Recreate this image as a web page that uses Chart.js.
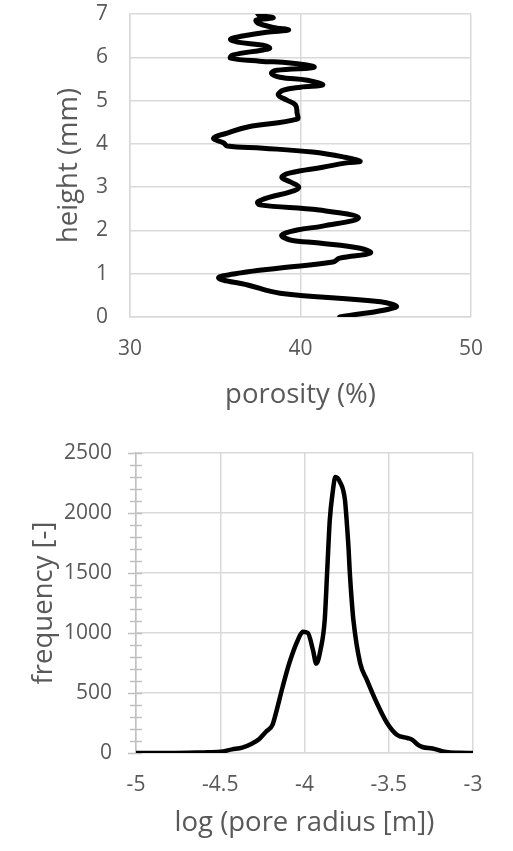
<!DOCTYPE html>
<html>
<head>
<meta charset="utf-8">
<script src="https://cdn.jsdelivr.net/npm/chart.js@4.4.1/dist/chart.umd.min.js"></script>
<style>
  html, body { margin: 0; padding: 0; background: #fff; }
  #wrap { position: relative; width: 513px; height: 851px; }
  canvas { position: absolute; left: 0; }
  #porosity-chart { top: 0; }
  #pore-chart { top: 420px; }
</style>
</head>
<body>
<div id="wrap">
  <canvas id="porosity-chart" width="513" height="420"></canvas>
  <canvas id="pore-chart" width="513" height="431"></canvas>
</div>
<script>
// porosity profile: porosity (%) against height (mm), bottom to top
const heightMm = [0, 0.23, 0.35, 0.55, 0.74, 0.90, 1.02, 1.13, 1.27, 1.36, 1.48, 1.59, 1.71, 1.78, 1.89,
  2.01, 2.10, 2.29, 2.47, 2.59, 2.66, 2.77, 2.89, 3.00, 3.12, 3.23, 3.33, 3.46, 3.56, 3.60, 3.70, 3.81,
  3.90, 3.95, 4.02, 4.13, 4.25, 4.39, 4.57, 4.71, 4.90, 5.01, 5.13, 5.24, 5.31, 5.36, 5.47, 5.54, 5.63,
  5.70, 5.77, 5.87, 5.91, 5.98, 6.05, 6.17, 6.21, 6.28, 6.35, 6.42, 6.49, 6.58, 6.63, 6.69, 6.79, 6.86,
  6.91, 6.97, 7.0];
const porosityPct = [42.3, 45.6, 44.7, 38.8, 36.9, 35.2, 36.5, 38.8, 41.9, 42.3, 44.1, 43.5, 41.1, 39.4, 38.9,
  39.8, 41.3, 43.4, 41.1, 37.6, 37.5, 38.2, 39.4, 39.9, 39.4, 38.9, 39.4, 41.3, 42.7, 43.5, 42.5, 40.7,
  37.8, 35.7, 35.5, 34.9, 35.7, 36.9, 39.8, 39.8, 39.7, 39.2, 38.7, 39.0, 40.0, 41.3, 40.4, 38.8, 38.3,
  38.6, 40.8, 39.4, 37.6, 35.9, 36.0, 37.8, 38.2, 37.8, 36.3, 35.9, 36.6, 38.0, 39.3, 38.4, 37.5, 37.4,
  38.4, 37.6, 37.5];
const porosityTicks = [30, 40, 50];
const heightTicks = [0, 1, 2, 3, 4, 5, 6, 7];

// pore size distribution: frequency against log10 of pore radius
const logRadius = [-5, -4.8, -4.6, -4.5, -4.43, -4.37, -4.31, -4.27, -4.23, -4.19, -4.17, -4.13, -4.09,
  -4.04, -4.01, -3.98, -3.95, -3.93, -3.905, -3.88, -3.865, -3.85, -3.833, -3.817, -3.79, -3.76, -3.75,
  -3.738, -3.732, -3.72, -3.71, -3.67, -3.63, -3.57, -3.51, -3.45, -3.39, -3.36, -3.33, -3.30, -3.24,
  -3.16, -3.08, -3.0];
const frequency = [0, 0, 5, 10, 30, 45, 80, 115, 175, 235, 330, 550, 750,
  940, 1010, 1000, 860, 745, 860, 1110, 1525, 1940, 2170, 2300, 2260, 2110, 1940,
  1690, 1525, 1275, 1110, 750, 610, 415, 250, 150, 125, 110, 72, 50, 38,
  8, 2, 0];
const radiusTicks = [-5, -4.5, -4, -3.5, -3];
const freqMax = 2500, freqMajor = 500, freqMinor = 100;

const textGrey = '#595959';
const gridGrey = '#d9d9d9';
const tickFont = { family: 'Open Sans', size: 21 };
const titleFont = { family: 'Open Sans', size: 27.5 };

// drop the extra room Chart.js reserves for edge labels, the layout padding handles it
const noEdgePad = s => {
  s.paddingTop = 0; s.paddingBottom = 0; s.paddingLeft = 0; s.paddingRight = 0;
};

// major + minor tick marks that cross the left axis line
const crossTicks = {
  id: 'crossTicks',
  beforeDatasetsDraw(chart) {
    const y = chart.scales.y;
    const x0 = chart.chartArea.left;
    const ctx = chart.ctx;
    ctx.save();
    ctx.strokeStyle = '#c0c0c0';
    ctx.lineWidth = 1.5;
    for (let v = 0; v <= freqMax; v += freqMinor) {
      const py = Math.round(y.getPixelForValue(v)) + 0.5;
      const major = v % freqMajor === 0;
      ctx.beginPath();
      ctx.moveTo(x0 - (major ? 8 : 6), py);
      ctx.lineTo(x0 + 6, py);
      ctx.stroke();
    }
    ctx.restore();
  }
};

new Chart(document.getElementById('porosity-chart'), {
  type: 'scatter',
  data: {
    datasets: [{
      data: heightMm.map((h, i) => ({ x: porosityPct[i], y: h })),
      showLine: true,
      borderColor: '#000',
      borderWidth: 5,
      borderCapStyle: 'round',
      borderJoinStyle: 'round',
      tension: 0.4,
      pointRadius: 0
    }]
  },
  options: {
    responsive: false,
    animation: false,
    layout: { padding: { top: 14, right: 42, left: 0, bottom: 0 } },
    plugins: { legend: { display: false }, tooltip: { enabled: false } },
    scales: {
      x: {
        type: 'linear', min: 30, max: 50,
        afterBuildTicks: s => { s.ticks = porosityTicks.map(v => ({ value: v })); },
        afterFit: s => { s.height = 103; noEdgePad(s); },
        grid: { color: gridGrey, lineWidth: 1.5, drawTicks: false },
        border: { color: gridGrey, width: 1.5 },
        ticks: { color: textGrey, font: tickFont, padding: 19, maxRotation: 0 },
        title: { display: true, text: 'porosity (%)', color: textGrey, font: titleFont, padding: { top: 0, bottom: 8.5 } }
      },
      y: {
        type: 'linear', min: 0, max: 7,
        afterBuildTicks: s => { s.ticks = heightTicks.map(v => ({ value: v })); },
        afterFit: s => { s.width = 130; noEdgePad(s); },
        grid: { color: gridGrey, lineWidth: 1.5, drawTicks: false },
        border: { color: gridGrey, width: 1.5 },
        ticks: { color: textGrey, font: tickFont, padding: 22 },
        title: { display: true, text: 'height (mm)', color: textGrey, font: titleFont, padding: { top: 53, bottom: 0 } }
      }
    }
  }
});

new Chart(document.getElementById('pore-chart'), {
  type: 'scatter',
  data: {
    datasets: [{
      data: logRadius.map((r, i) => ({ x: r, y: frequency[i] })),
      showLine: true,
      borderColor: '#000',
      borderWidth: 4.5,
      borderCapStyle: 'round',
      borderJoinStyle: 'round',
      cubicInterpolationMode: 'monotone',
      pointRadius: 0
    }]
  },
  plugins: [crossTicks],
  options: {
    responsive: false,
    animation: false,
    layout: { padding: { top: 33, right: 40, left: 0, bottom: 0 } },
    plugins: { legend: { display: false }, tooltip: { enabled: false } },
    scales: {
      x: {
        type: 'linear', min: -5, max: -3,
        afterBuildTicks: s => { s.ticks = radiusTicks.map(v => ({ value: v })); },
        afterFit: s => { s.height = 98; noEdgePad(s); },
        grid: { color: gridGrey, lineWidth: 1.5, drawTicks: false },
        border: { color: gridGrey, width: 1.5 },
        ticks: { color: textGrey, font: tickFont, padding: 19, maxRotation: 0, callback: v => String(v) },
        title: { display: true, text: 'log (pore radius [m])', color: textGrey, font: titleFont, padding: { top: 0, bottom: 11.5 } }
      },
      y: {
        type: 'linear', min: 0, max: freqMax,
        ticks: { stepSize: freqMajor, color: textGrey, font: tickFont, padding: 24, callback: v => String(v) },
        afterFit: s => { s.width = 136; noEdgePad(s); },
        grid: { color: gridGrey, lineWidth: 1.5, drawTicks: false },
        border: { color: '#c0c0c0', width: 1.5 },
        title: { display: true, text: 'frequency [-]', color: textGrey, font: titleFont, padding: { top: 28, bottom: 0 } }
      }
    }
  }
});
</script>
</body>
</html>
